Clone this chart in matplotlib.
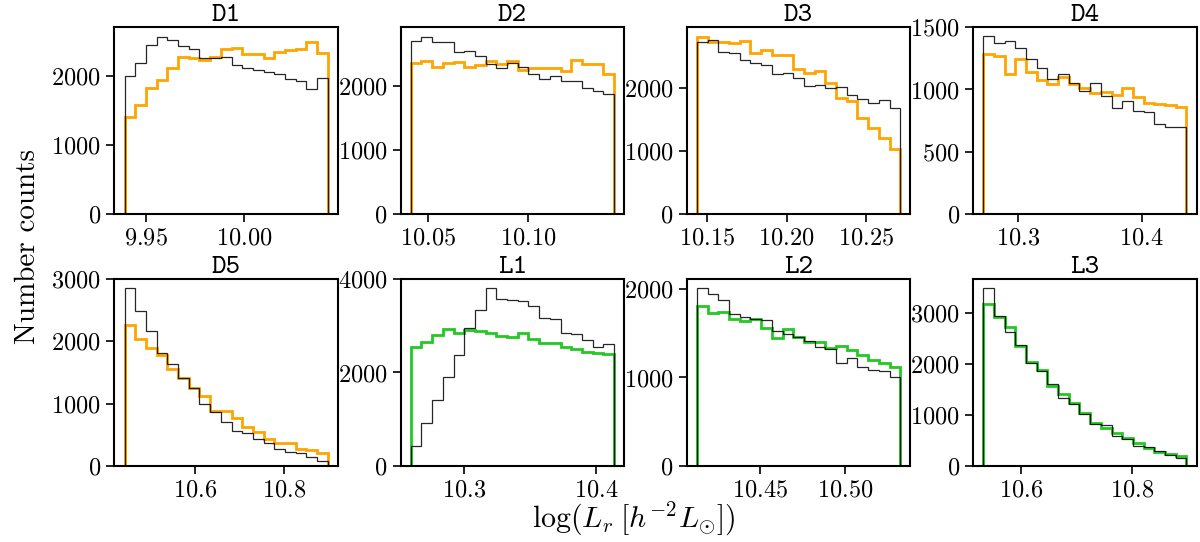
import numpy as np
import matplotlib
matplotlib.use("Agg")
import matplotlib.pyplot as plt
from matplotlib.ticker import MultipleLocator

# =====================
# DATA (19 bins per panel)
# =====================
names = ["D1", "D2", "D3", "D4", "D5", "L1", "L2", "L3"]

# histogram range (left edge, right edge) in log(L_r)
ranges = [
    (9.9392, 10.0427),
    (10.0412, 10.1429),
    (10.1437, 10.2713),
    (10.2721, 10.4362),
    (10.4404, 10.8981),
    (10.2591, 10.4139),
    (10.4134, 10.5323),
    (10.5315, 10.8991),
]

# black (reference) counts
black = [
    [2010, 2199, 2456, 2578, 2529, 2447, 2398, 2262, 2262, 2286,
     2165, 2117, 2092, 2068, 2029, 1961, 1937, 1815, 1971],
    [2710, 2773, 2684, 2689, 2527, 2548, 2475, 2345, 2287, 2366,
     2303, 2193, 2110, 2157, 2078, 2078, 1974, 1927, 1875],
    [2734, 2777, 2574, 2559, 2452, 2410, 2372, 2229, 2245, 2160,
     2037, 2053, 2011, 2027, 1888, 1830, 1771, 1814, 1681],
    [1430, 1371, 1393, 1336, 1245, 1175, 1084, 1121, 1054, 990,
     1049, 947, 851, 904, 829, 818, 722, 695, 700],
    [2856, 2491, 2169, 1809, 1643, 1417, 1256, 993, 864, 698,
     564, 521, 429, 360, 268, 225, 199, 134, 81],
    [422, 909, 1410, 1911, 2376, 2962, 3335, 3807, 3585, 3556,
     3535, 3428, 3177, 3156, 2841, 2819, 2698, 2555, 2612],
    [2011, 1947, 1880, 1720, 1682, 1660, 1648, 1527, 1490, 1456,
     1418, 1350, 1319, 1168, 1217, 1115, 1085, 1074, 1010],
    [3493, 2948, 2640, 2377, 2016, 1865, 1602, 1326, 1215, 1011,
     821, 801, 584, 525, 387, 361, 289, 210, 144],
]

# coloured (sample) counts
sample = [
    [1413, 1583, 1825, 1947, 2117, 2286, 2262, 2238, 2277, 2398,
     2418, 2320, 2330, 2262, 2359, 2383, 2393, 2495, 2345],
    [2366, 2392, 2298, 2360, 2371, 2298, 2329, 2386, 2340, 2397,
     2251, 2277, 2277, 2277, 2235, 2402, 2345, 2345, 2188],
    [2824, 2734, 2745, 2718, 2761, 2559, 2612, 2532, 2532, 2309,
     2250, 2277, 2080, 1840, 1803, 1521, 1362, 1202, 1032],
    [1283, 1269, 1124, 1245, 1143, 1076, 1044, 1097, 1044, 1009,
     974, 982, 955, 1014, 942, 891, 885, 872, 861],
    [2265, 2045, 1889, 1782, 1557, 1406, 1245, 1122, 880, 880,
     762, 628, 537, 435, 370, 370, 263, 252, 199],
    [2540, 2662, 2805, 2927, 2841, 2905, 2884, 2855, 2791, 2762,
     2855, 2719, 2633, 2633, 2540, 2497, 2440, 2411, 2390],
    [1811, 1728, 1739, 1660, 1645, 1660, 1557, 1444, 1546, 1456,
     1399, 1399, 1331, 1357, 1312, 1255, 1198, 1161, 1115],
    [3184, 2935, 2738, 2364, 2049, 1885, 1576, 1412, 1228, 1046,
     834, 735, 637, 538, 453, 341, 263, 230, 190],
]

colors = ["orange"] * 5 + ["#24c824"] * 3
x_steps = [0.05, 0.05, 0.05, 0.1, 0.2, 0.1, 0.05, 0.2]
y_steps = [1000, 1000, 1000, 500, 1000, 2000, 1000, 1000]
y_tops = [2714, 2919, 2973, 1500, 3000, 4000, 2113, 3670]

# =====================
# STYLE
# =====================
plt.rcParams["font.family"] = "serif"
plt.rcParams["font.serif"] = ["cmr10", "DejaVu Serif"]
plt.rcParams["font.monospace"] = ["cmtt10", "DejaVu Sans Mono"]
plt.rcParams["mathtext.fontset"] = "cm"
plt.rcParams["axes.formatter.use_mathtext"] = True
plt.rcParams["axes.unicode_minus"] = False

fig, axes = plt.subplots(2, 4, figsize=(12, 5.42), dpi=100)
fig.subplots_adjust(left=0.0953, right=0.9972, top=0.9496, bottom=0.1408,
                    wspace=0.28, hspace=0.352)

for ax, name, rng, b, s, c, xs, ys, yt in zip(axes.flat, names, ranges, black,
                                              sample, colors, x_steps,
                                              y_steps, y_tops):
    edges = np.linspace(rng[0], rng[1], len(b) + 1)
    ax.stairs(s, edges, baseline=0, color=c, lw=2.0)
    ax.stairs(b, edges, baseline=0, color="k", lw=0.9, alpha=0.85)
    ax.set_title(name, family="monospace", fontsize=20, pad=4)
    ax.xaxis.set_major_locator(MultipleLocator(xs))
    ax.yaxis.set_major_locator(MultipleLocator(ys))
    ax.tick_params(direction="out", length=6, width=1.2, labelsize=17.5,
                   top=False, right=False)
    for sp in ax.spines.values():
        sp.set_linewidth(1.5)
    ax.set_ylim(0, yt)

fig.supylabel("Number counts", x=0.012, y=0.546, fontsize=21)
fig.supxlabel(r"$\log(L_r\;[h^{-2}L_{\odot}])$", x=0.528, y=0.008,
              fontsize=21.5)

fig.savefig("out.png", dpi=100)
